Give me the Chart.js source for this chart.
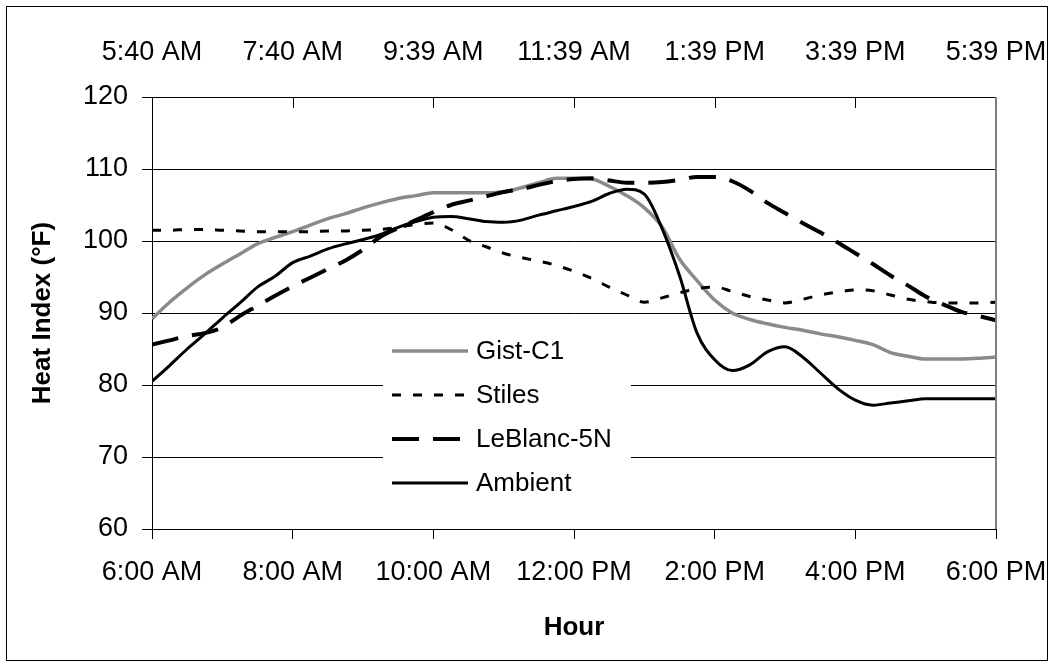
<!DOCTYPE html>
<html>
<head>
<meta charset="utf-8">
<script src="https://cdn.jsdelivr.net/npm/chart.js@4.4.1/dist/chart.umd.min.js"></script>
<style>
  body { margin: 0; background: #fff; }
  canvas { display: block; }
</style>
</head>
<body>
<canvas id="grafico" width="1053" height="666"></canvas>
<script>
// minutos depois das 6:00 AM (uma leitura a cada 15 min)
const minutos = [0, 15, 30, 45, 60, 75, 90, 105, 120, 135, 150, 165, 180, 195, 210, 225, 240,
  255, 270, 285, 300, 315, 330, 345, 360, 375, 390, 405, 420, 435, 450, 465, 480,
  495, 510, 525, 540, 555, 570, 585, 600, 615, 630, 645, 660, 675, 690, 705, 720];

// rótulos dos eixos
const horasBaixo = ["6:00 AM", "8:00 AM", "10:00 AM", "12:00 PM", "2:00 PM", "4:00 PM", "6:00 PM"];
const horasCima = ["5:40 AM", "7:40 AM", "9:39 AM", "11:39 AM", "1:39 PM", "3:39 PM", "5:39 PM"];

// séries (°F)
const gist = [89.2, 91.5, 93.5, 95.3, 96.8, 98.2, 99.6, 100.5, 101.3, 102.2, 103.1, 103.8, 104.6,
  105.3, 105.9, 106.3, 106.7, 106.7, 106.7, 106.7, 106.8, 107.4, 108.1, 108.7, 108.7,
  108.6, 107.6, 106.3, 104.6, 102.0, 97.5, 94.5, 91.8, 90.0, 89.1, 88.5, 88.0,
  87.6, 87.1, 86.7, 86.2, 85.6, 84.5, 84.0, 83.6, 83.6, 83.6, 83.7, 83.9];
const stiles = [101.5, 101.5, 101.6, 101.6, 101.5, 101.4, 101.3, 101.3, 101.3, 101.3, 101.4, 101.4, 101.5,
  101.6, 101.9, 102.3, 102.5, 101.6, 100.1, 99.2, 98.3, 97.7, 97.2, 96.6, 95.8,
  94.8, 93.6, 92.5, 91.5, 92.1, 92.8, 93.4, 93.6, 93.0, 92.3, 91.8, 91.4,
  91.9, 92.5, 92.9, 93.2, 93.1, 92.5, 91.9, 91.6, 91.4, 91.4, 91.4, 91.5];
const leblanc = [85.6, 86.2, 86.8, 87.2, 88.0, 89.6, 91.0, 92.4, 93.7, 94.9, 96.1, 97.3, 98.8,
  100.6, 101.8, 102.9, 104.0, 105.0, 105.6, 106.2, 106.8, 107.2, 107.8, 108.3, 108.6,
  108.7, 108.4, 108.1, 108.1, 108.2, 108.5, 108.9, 108.9, 108.3, 107.0, 105.3, 103.9,
  102.5, 101.2, 99.8, 98.3, 96.8, 95.2, 93.8, 92.3, 91.2, 90.2, 89.6, 89.0];
const ambiente = [80.5, 82.7, 85.0, 87.1, 89.3, 91.4, 93.6, 95.1, 97.0, 97.9, 98.9, 99.6, 100.2,
  100.9, 101.9, 102.7, 103.3, 103.4, 103.1, 102.7, 102.6, 102.9, 103.6, 104.2, 104.8,
  105.5, 106.6, 107.2, 106.5, 101.8, 95.2, 87.2, 83.5, 82.0, 82.8, 84.6, 85.3,
  83.9, 81.7, 79.5, 77.9, 77.2, 77.5, 77.8, 78.1, 78.1, 78.1, 78.1, 78.1];

const fonte = "'Liberation Sans', Arial, sans-serif";

function pontos(valores) {
  return minutos.map((m, i) => ({ x: m, y: valores[i] }));
}

// moldura, borda direita, marcas internas do eixo de cima e legenda
const extras = {
  id: "extras",
  afterDraw(chart) {
    const ctx = chart.ctx;
    const area = chart.chartArea;
    ctx.save();

    ctx.strokeStyle = "#808080";
    ctx.lineWidth = 2;
    ctx.beginPath();
    ctx.moveTo(area.right, area.top);
    ctx.lineTo(area.right, area.bottom);
    ctx.stroke();

    const cima = chart.scales.x2;
    ctx.strokeStyle = "#000";
    ctx.lineWidth = 1;
    cima.ticks.forEach((t, i) => {
      if (i === 0 || i === cima.ticks.length - 1) return;
      const px = Math.round(cima.getPixelForValue(t.value)) + 0.5;
      ctx.beginPath();
      ctx.moveTo(px, area.top);
      ctx.lineTo(px, area.top + 11);
      ctx.stroke();
    });

    // legenda dentro da área do gráfico
    ctx.fillStyle = "#fff";
    ctx.fillRect(383, 328, 248, 180);
    ctx.font = "26px " + fonte;
    ctx.textBaseline = "middle";
    chart.data.datasets.forEach((ds, i) => {
      const y = 351 + i * 44;
      ctx.strokeStyle = ds.borderColor;
      ctx.lineWidth = ds.borderWidth;
      ctx.setLineDash(ds.borderDash || []);
      ctx.beginPath();
      ctx.moveTo(392, y);
      ctx.lineTo(468, y);
      ctx.stroke();
      ctx.setLineDash([]);
      ctx.fillStyle = "#000";
      ctx.fillText(ds.label, 476, y + 1);
    });

    ctx.strokeStyle = "#000";
    ctx.lineWidth = 1;
    ctx.strokeRect(6.5, 6.5, 1041, 654);
    ctx.restore();
  }
};

// os rótulos das pontas podem passar da área do gráfico, como no original
function ajustaX(altura) {
  return (s) => {
    s.height = altura;
    s.paddingLeft = 0;
    s.paddingRight = 0;
  };
}

new Chart(document.getElementById("grafico"), {
  type: "line",
  data: {
    datasets: [
      { label: "Gist-C1", data: pontos(gist), borderColor: "#8a8a8a", borderWidth: 3.5, order: 3 },
      { label: "Stiles", data: pontos(stiles), borderColor: "#000", borderWidth: 3, borderDash: [9, 12], order: 2 },
      { label: "LeBlanc-5N", data: pontos(leblanc), borderColor: "#000", borderWidth: 4, borderDash: [27, 14], order: 1 },
      { label: "Ambient", data: pontos(ambiente), borderColor: "#000", borderWidth: 3, order: 0 }
    ]
  },
  options: {
    responsive: false,
    devicePixelRatio: 1,
    animation: false,
    elements: {
      point: { radius: 0 },
      line: { cubicInterpolationMode: "monotone", fill: false }
    },
    layout: { padding: { left: 0, right: 57, top: 0, bottom: 0 } },
    plugins: { legend: { display: false }, tooltip: { enabled: false } },
    scales: {
      x: {
        type: "linear",
        position: "bottom",
        min: 0,
        max: 720,
        afterFit: ajustaX(137),
        ticks: {
          stepSize: 120,
          autoSkip: false,
          maxRotation: 0,
          padding: 17,
          color: "#000",
          font: { family: fonte, size: 27 },
          callback: (v) => horasBaixo[v / 120]
        },
        grid: { drawOnChartArea: false, tickLength: 10, color: "#000" },
        border: { color: "#000" },
        title: {
          display: true,
          text: "Hour",
          color: "#000",
          font: { family: fonte, size: 26, weight: "bold" },
          padding: { top: 0, bottom: 23 }
        }
      },
      x2: {
        type: "linear",
        position: "top",
        min: 0,
        max: 720,
        afterFit: ajustaX(97),
        ticks: {
          stepSize: 120,
          autoSkip: false,
          maxRotation: 0,
          padding: 28,
          color: "#000",
          font: { family: fonte, size: 27 },
          callback: (v) => horasCima[v / 120]
        },
        grid: { display: false, drawTicks: false },
        border: { display: false }
      },
      y: {
        min: 60,
        max: 120,
        afterFit: (s) => { s.width = 152; },
        ticks: {
          stepSize: 10,
          padding: 14,
          color: "#000",
          font: { family: fonte, size: 27 }
        },
        grid: { color: "#000", tickLength: 10 },
        border: { color: "#000" },
        title: {
          display: true,
          text: "Heat Index (°F)",
          color: "#000",
          font: { family: fonte, size: 26, weight: "bold" },
          padding: { top: 27, bottom: 0 }
        }
      }
    }
  },
  plugins: [extras]
});
</script>
</body>
</html>
